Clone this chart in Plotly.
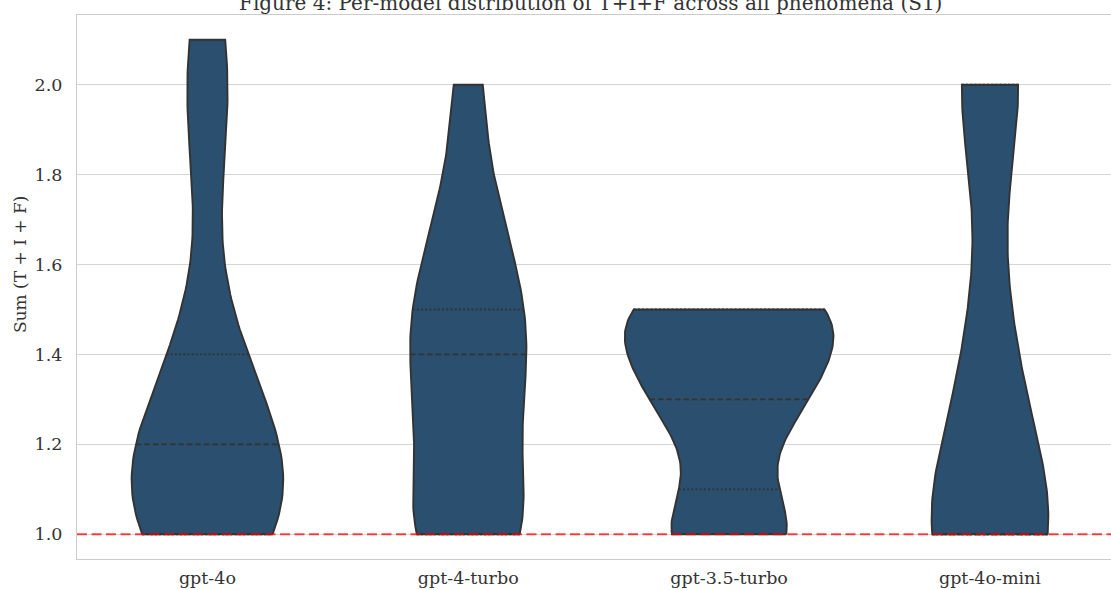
import math
import numpy as np
import plotly.graph_objects as go

# ---- data ----
models = ["gpt-4o", "gpt-4-turbo", "gpt-3.5-turbo", "gpt-4o-mini"]
sum_values = [1.0, 1.1, 1.2, 1.3, 1.4, 1.5, 1.6, 1.7, 1.8, 1.9, 2.0, 2.1]
counts_gpt_4o = [12, 7, 8, 4, 3, 2, 0, 0, 2, 2, 1, 4]
counts_gpt_4_turbo = [13, 0, 6, 4, 5, 8, 1, 6, 0, 1, 3]
counts_gpt_35_turbo = [7, 0, 2, 5, 4, 9]
counts_gpt_4o_mini = [17, 0, 1, 1, 4, 1, 0, 0, 0, 0, 9]
y_ticks = [1.0, 1.2, 1.4, 1.6, 1.8, 2.0]
reference_line = 1.0

title_text = "Figure 4: Per-model distribution of T+I+F across all phenomena (S1)"
y_label = "Sum (T + I + F)"

FILL = "#2b4f6e"
EDGE = "#333333"

all_counts = [counts_gpt_4o, counts_gpt_4_turbo, counts_gpt_35_turbo, counts_gpt_4o_mini]
datas = [np.repeat(np.array(sum_values[:len(c)]), c) for c in all_counts]


def kde(d, g):
    h = np.std(d, ddof=1) * len(d) ** (-0.2)
    return np.exp(-0.5 * ((np.asarray(g)[..., None] - d) / h) ** 2).sum(-1) / (len(d) * h * math.sqrt(2 * math.pi))


grids = [np.linspace(d.min(), d.max(), 100) for d in datas]
dens = [kde(d, g) for d, g in zip(datas, grids)]
gmax = max(f.max() for f in dens)

fig = go.Figure()
for i, (d, g, f) in enumerate(zip(datas, grids, dens)):
    hw = 0.4 * f / gmax
    xs = np.concatenate([i + hw, (i - hw)[::-1], [i + hw[0]]])
    ys = np.concatenate([g, g[::-1], [g[0]]])
    fig.add_trace(go.Scatter(x=xs, y=ys, mode="lines", fill="toself", fillcolor=FILL,
                             line=dict(color=EDGE, width=1.9), hoverinfo="skip", showlegend=False))
    for p, dash in ((25, "2px,2.2px"), (50, "5.5px,3px"), (75, "2px,2.2px")):
        qv = float(np.percentile(d, p))
        w = 0.4 * float(kde(d, qv)) / gmax
        fig.add_trace(go.Scatter(x=[i - w, i + w], y=[qv, qv], mode="lines",
                                 line=dict(color=EDGE, width=1.8, dash=dash),
                                 hoverinfo="skip", showlegend=False))

fig.add_shape(type="line", xref="paper", x0=0, x1=1, yref="y", y0=reference_line, y1=reference_line,
              line=dict(color="rgba(255,0,0,0.72)", width=2, dash="10px,4.5px"), layer="above")

fig.update_layout(
    width=1111, height=590, margin=dict(l=77, r=0, t=15, b=31),
    plot_bgcolor="white", paper_bgcolor="white",
    font=dict(family="DejaVu Serif", size=17.5, color="#333333"),
)
fig.update_xaxes(range=[-0.5, 3.464], tickvals=[0, 1, 2, 3], ticktext=models, showgrid=False,
                 zeroline=False, showline=True, linecolor="#cccccc", linewidth=1.25, mirror=True,
                 ticks="", ticklabelstandoff=3, automargin=False)
fig.update_yaxes(range=[0.945, 2.155], tickvals=y_ticks, tickformat=".1f",
                 showgrid=True, gridcolor="#d5d5d5", gridwidth=1, zeroline=False, showline=True,
                 linecolor="#cccccc", linewidth=1.25, ticks="", ticklabelstandoff=10, automargin=False)
fig.add_annotation(text=title_text, xref="paper", yref="paper", x=(590 - 77) / 1034, y=1 + 12 / 544,
                   xanchor="center", yanchor="middle", showarrow=False, font=dict(size=20))
fig.add_annotation(text=y_label, xref="paper", yref="paper", x=(20 - 77) / 1034,
                   y=(559 - 265) / 544, xanchor="center", yanchor="middle", textangle=-90,
                   showarrow=False, font=dict(size=17))
fig.write_html("out.html")
